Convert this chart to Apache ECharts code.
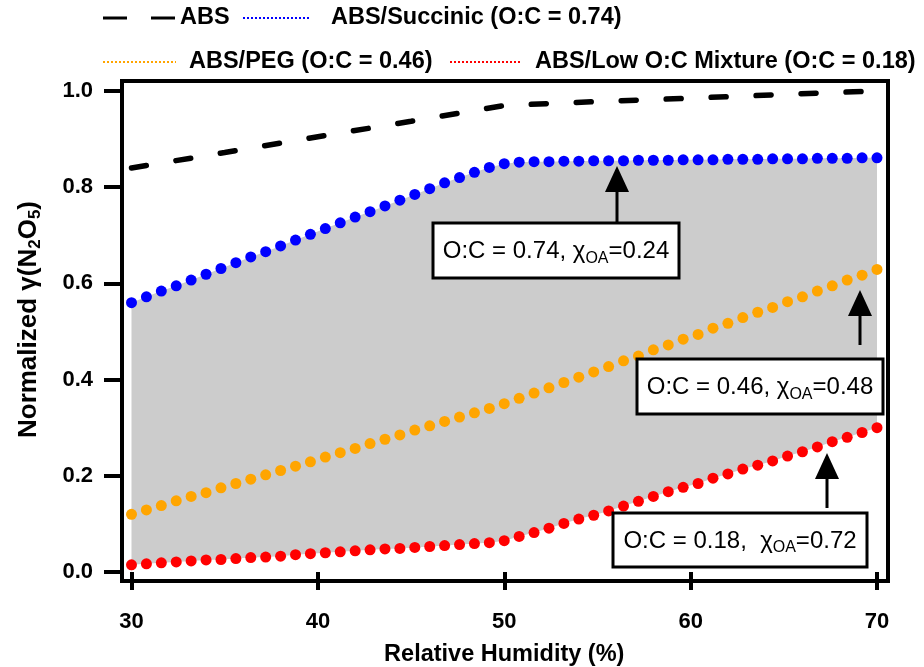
<!DOCTYPE html>
<html>
<head>
<meta charset="utf-8">
<script src="https://cdn.jsdelivr.net/npm/echarts@6/dist/echarts.min.js"></script>
<style>
  html, body { margin: 0; padding: 0; background: #fff; }
  #chart { width: 924px; height: 667px; }
</style>
</head>
<body>
<div id="chart"></div>
<script>
// relative humidity of each modelled point (%)
var rh = [30, 30.8, 31.6, 32.4, 33.2, 34, 34.8, 35.6, 36.4, 37.2, 38, 38.8, 39.6, 40.4, 41.2, 42, 42.8,
  43.6, 44.4, 45.2, 46, 46.8, 47.6, 48.4, 49.2, 50, 50.8, 51.6, 52.4, 53.2, 54, 54.8, 55.6, 56.4, 57.2,
  58, 58.8, 59.6, 60.4, 61.2, 62, 62.8, 63.6, 64.4, 65.2, 66, 66.8, 67.6, 68.4, 69.2, 70];

// ABS only (dashed)
var absRh = [30, 35, 40, 45, 50, 55, 60, 65, 70];
var absVals = [0.840, 0.872, 0.905, 0.937, 0.970, 0.978, 0.985, 0.993, 1.000];

// ABS/Succinic (O:C = 0.74)
var succinic = [0.560, 0.572, 0.584, 0.595, 0.607, 0.619, 0.631, 0.643, 0.655, 0.666, 0.678, 0.690,
  0.702, 0.714, 0.726, 0.738, 0.749, 0.761, 0.773, 0.785, 0.797, 0.809, 0.820, 0.831, 0.841, 0.849,
  0.852, 0.853, 0.853, 0.854, 0.854, 0.855, 0.855, 0.855, 0.856, 0.856, 0.856, 0.857, 0.857, 0.857,
  0.858, 0.858, 0.858, 0.859, 0.859, 0.859, 0.860, 0.860, 0.860, 0.861, 0.861];

// ABS/PEG (O:C = 0.46)
var peg = [0.120, 0.129, 0.138, 0.148, 0.157, 0.165, 0.175, 0.184, 0.193, 0.202, 0.211, 0.220, 0.229,
  0.239, 0.248, 0.257, 0.267, 0.276, 0.285, 0.295, 0.304, 0.313, 0.322, 0.331, 0.340, 0.350, 0.361,
  0.372, 0.383, 0.394, 0.405, 0.416, 0.427, 0.439, 0.449, 0.462, 0.472, 0.484, 0.494, 0.507, 0.517,
  0.529, 0.540, 0.550, 0.562, 0.572, 0.584, 0.595, 0.607, 0.617, 0.629];

// ABS/Low O:C Mixture (O:C = 0.18)
var lowOC = [0.015, 0.017, 0.019, 0.021, 0.023, 0.025, 0.026, 0.028, 0.030, 0.031, 0.033, 0.036, 0.038,
  0.040, 0.042, 0.044, 0.046, 0.048, 0.049, 0.051, 0.053, 0.055, 0.057, 0.059, 0.061, 0.065, 0.074,
  0.082, 0.091, 0.101, 0.110, 0.118, 0.127, 0.137, 0.147, 0.157, 0.167, 0.176, 0.184, 0.195, 0.204,
  0.214, 0.222, 0.231, 0.241, 0.250, 0.260, 0.271, 0.280, 0.290, 0.300];

var xMin = 30, xMax = 70, xStep = 10;
var yMin = 0, yMax = 1, yStep = 0.2;

var FONT = 'Liberation Sans';

function pairs(xs, ys) {
  return ys.map(function (v, i) { return [xs[i], v]; });
}

function annotation(cx, cy, w, h, arrowX, tipY, shaftEnd, label) {
  return {
    type: 'group',
    children: [
      { type: 'line', z: 100, shape: { x1: arrowX, y1: tipY + 20, x2: arrowX, y2: shaftEnd },
        style: { stroke: '#000', lineWidth: 3 } },
      { type: 'polygon', z: 100,
        shape: { points: [[arrowX, tipY], [arrowX - 12, tipY + 26], [arrowX + 12, tipY + 26]] },
        style: { fill: '#000' } },
      { type: 'rect', z: 100, shape: { x: cx - w / 2, y: cy - h / 2, width: w, height: h },
        style: { fill: '#fff', stroke: '#000', lineWidth: 3 } },
      { type: 'text', z: 101, x: cx, y: cy + 1,
        style: {
          text: label, align: 'center', verticalAlign: 'middle', fill: '#000',
          rich: {
            n: { fontSize: 24, fontFamily: FONT, fill: '#000' },
            s: { fontSize: 16, fontFamily: FONT, fill: '#000', padding: [14, 0, 0, 0] }
          }
        } }
    ]
  };
}

function legendLine(x1, x2, y, color, width, dash) {
  return { type: 'line', z: 100, shape: { x1: x1, y1: y, x2: x2, y2: y },
    style: { stroke: color, lineWidth: width, lineDash: dash } };
}

function legendText(x, y, txt) {
  return { type: 'text', z: 100, x: x, y: y,
    style: { text: txt, fontSize: 23.5, fontWeight: 'bold', fontFamily: FONT, fill: '#000',
      align: 'left', verticalAlign: 'middle' } };
}

var chart = echarts.init(document.getElementById('chart'));

var option = {
  animation: false,
  backgroundColor: '#fff',
  textStyle: { fontFamily: FONT },
  grid: [
    { left: 131.5, right: 47, top: 91, bottom: 95, outerBoundsMode: 'none', containLabel: false },
    // the plot frame
    { left: 122, right: 36, top: 81, bottom: 86, show: true, borderColor: '#000', borderWidth: 4,
      backgroundColor: 'transparent', outerBoundsMode: 'none', containLabel: false }
  ],
  xAxis: [{
    type: 'value', gridIndex: 0, min: xMin, max: xMax, interval: xStep, offset: 9,
    axisLine: { show: false },
    axisTick: { length: 18, lineStyle: { color: '#000', width: 4 } },
    axisLabel: { margin: 30, fontSize: 22, fontWeight: 'bold', color: '#000' },
    splitLine: { show: false },
    name: 'Relative Humidity (%)', nameLocation: 'middle', nameGap: 62,
    nameTextStyle: { fontSize: 23.5, fontWeight: 'bold', color: '#000' }
  }, {
    type: 'value', gridIndex: 1, show: false
  }],
  yAxis: [{
    type: 'value', gridIndex: 0, min: yMin, max: yMax, interval: yStep, offset: 9.5,
    axisLine: { show: false },
    axisTick: { length: 18, lineStyle: { color: '#000', width: 4 } },
    axisLabel: { margin: 29, fontSize: 22, fontWeight: 'bold', color: '#000',
      formatter: function (v) { return v.toFixed(1); } },
    splitLine: { show: false },
    name: '{b|Normalized γ(N}{s|2}{b|O}{s|5}{b|)}', nameLocation: 'middle', nameGap: 78,
    nameTextStyle: {
      padding: [0, 0, 0, 24],
      rich: {
        b: { fontSize: 26, fontWeight: 'bold', color: '#000', fontFamily: FONT },
        s: { fontSize: 17, fontWeight: 'bold', color: '#000', fontFamily: FONT, padding: [13, 0, 0, 0] }
      }
    }
  }, {
    type: 'value', gridIndex: 1, show: false
  }],
  series: [
    // grey band: fill under succinic, then blank out what lies under the low O:C curve
    {
      name: 'band top', type: 'line', data: pairs(rh, succinic), z: 1,
      symbol: 'none', lineStyle: { width: 0, opacity: 0 }, silent: true,
      areaStyle: { color: '#cccccc', opacity: 1, origin: 'start' }
    },
    {
      name: 'band bottom', type: 'line', data: pairs(rh, lowOC), z: 1,
      symbol: 'none', lineStyle: { width: 0, opacity: 0 }, silent: true,
      areaStyle: { color: '#ffffff', opacity: 1, origin: 'start' }
    },
    {
      name: 'ABS', type: 'line', data: pairs(absRh, absVals), z: 3, symbol: 'none',
      lineStyle: { color: '#000', width: 5.5, type: [15, 30], cap: 'round' }
    },
    {
      name: 'ABS/Succinic (O:C = 0.74)', type: 'scatter', data: pairs(rh, succinic), z: 3,
      symbolSize: 11, itemStyle: { color: '#0000ff', opacity: 1 }
    },
    {
      name: 'ABS/PEG (O:C = 0.46)', type: 'scatter', data: pairs(rh, peg), z: 3,
      symbolSize: 11, itemStyle: { color: '#ffa500', opacity: 1 }
    },
    {
      name: 'ABS/Low O:C Mixture (O:C = 0.18)', type: 'scatter', data: pairs(rh, lowOC), z: 3,
      symbolSize: 11, itemStyle: { color: '#ff0000', opacity: 1 }
    }
  ],
  graphic: [
    // legend
    legendLine(103, 177, 18, '#000', 3, [24, 24]),
    legendText(180, 18, 'ABS'),
    legendLine(243, 311, 18, '#0000ff', 2, [2, 2]),
    legendText(331, 18, 'ABS/Succinic (O:C = 0.74)'),
    legendLine(103, 176, 62, '#ffa500', 2, [2, 2]),
    legendText(189, 62, 'ABS/PEG (O:C = 0.46)'),
    legendLine(450, 521, 62, '#ff0000', 2, [2, 2]),
    legendText(535, 62, 'ABS/Low O:C Mixture (O:C = 0.18)'),
    // annotations
    annotation(556, 250.5, 246, 55, 617, 166, 222, '{n|O:C = 0.74, χ}{s|OA}{n|=0.24}'),
    annotation(760, 386.5, 246, 55, 860, 290, 345, '{n|O:C = 0.46, χ}{s|OA}{n|=0.48}'),
    annotation(740, 540, 254, 54, 827, 453, 508, '{n|O:C = 0.18,  χ}{s|OA}{n|=0.72}')
  ]
};

chart.setOption(option);
</script>
</body>
</html>
